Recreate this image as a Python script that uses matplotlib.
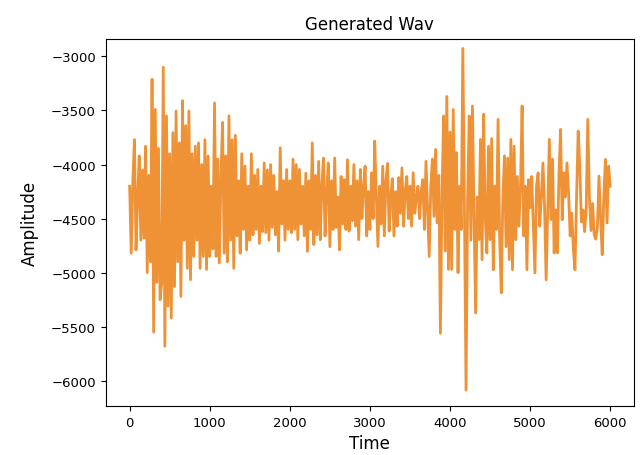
import numpy as np
import matplotlib
matplotlib.use("Agg")
import matplotlib.pyplot as plt

# Amplitude samples, one every 20 time units (0..6000)
sample_step = 20
amplitude = [
    -4200, -4820, -4150, -3770, -4790, -4300, -3920, -4700, -4050, -4680,
    -3830, -5000, -4100, -4900, -3210, -5550, -3490, -5090, -3850, -5250,
    -5100, -3100, -5680, -3550, -5310, -3900, -5420, -3705, -5130, -3505,
    -4900, -3800, -5220, -3410, -4700, -3640, -4960, -3505, -5065, -3900,
    -4850, -3830, -4700, -3800, -4960, -4000, -4850, -3770, -4970, -3920,
    -4850,
    -4200, -4780, -3430, -4850, -3950, -4910, -4100, -3610, -4820, -3920,
    -4900, -3550, -4700, -3770, -4960, -3730, -4660, -4150, -4820, -3900,
    -4600, -4015, -4790, -4200, -4700, -3900, -4650, -4100, -4600, -4045,
    -4730, -4200, -4620, -3985, -4630, -4050, -4700, -4000, -4580, -4100,
    -4650, -4250, -4800, -3845, -4550, -4150, -4700, -4045, -4600, -4150,
    -4630, -3950, -4600, -4000, -4695, -4045, -4550, -4200, -4660, -4080,
    -4803, -4150, -4600, -3800, -4740, -4100, -4650, -3970, -4695, -4200,
    -3940, -4660, -4250, -3985, -4760, -4150, -4600, -3940, -4580, -4300,
    -4790, -4110, -4550, -4140, -4600, -3955, -4615, -4200, -4520, -4000,
    -4570, -4150, -4695, -4045, -4500, -4200, -4015, -4660, -4250, -4600,
    -4077, -4500, -3783, -4300, -4757, -4200, -4550, -4015, -4660, -4150,
    -3990, -4615, -4300, -4130, -4660, -4250, -4570, -4120, -4450, -4030,
    -4570, -4250, -4110, -4500, -4200, -4570, -4075, -4450, -4300, -4200,
    -4500, -4250, -4140, -4600, -3970, -4400, -4850, -4200, -3950, -4480,
    -3860, -4540, -4100, -5560, -4300, -3550, -4800, -3370, -4970, -3700,
    -4970, -3490, -4600, -3890, -5000, -4200, -4600, -2926, -4400, -6086,
    -4300, -3550, -4700, -3458, -4500, -5372, -4300, -4695, -3767, -4880,
    -3535, -4500, -4818, -3830, -4695, -3760, -4973, -4200, -4600, -3582,
    -4695, -5187, -4300, -3920, -4760, -3940, -4880, -3767, -4973, -3830,
    -4695, -4110, -4570, -4200, -3458, -4660, -4200, -4973, -4140, -4400,
    -4110, -4570, -5003, -4200, -4077, -4570, -4300, -3985, -4386, -5066,
    -4400, -3767, -4510, -3950, -4818, -4420, -4818, -4100, -3675, -4510,
    -4077, -4300, -3985, -4260, -4660, -4450, -4780, -4973, -4300, -3690,
    -4015, -4530, -4420, -4620, -4420, -3582, -4300, -4610, -4360, -4650,
    -4690, -4580, -4107, -4500, -4834, -4300, -3953, -4540, -4015, -4200,
]
time = np.arange(len(amplitude)) * sample_step

x_ticks = [0, 1000, 2000, 3000, 4000, 5000, 6000]
y_ticks = [-6000, -5500, -5000, -4500, -4000, -3500, -3000]

fig = plt.figure(figsize=(6.4, 4.56), dpi=100)
ax = fig.add_axes([0.165, 0.107, 0.826, 0.805])
ax.plot(time, amplitude, color="#ef9135", linewidth=2.0)
ax.set_xlim(-300, 6300)
ax.set_ylim(-6235, -2840)
ax.set_xticks(x_ticks)
ax.set_yticks(y_ticks)
ax.tick_params(labelsize=9.5)
ax.set_title("Generated Wav", fontsize=12, pad=7)
ax.set_xlabel("Time", fontsize=12)
ax.set_ylabel("Amplitude", fontsize=12, labelpad=9)
fig.savefig("out.png", dpi=100)
